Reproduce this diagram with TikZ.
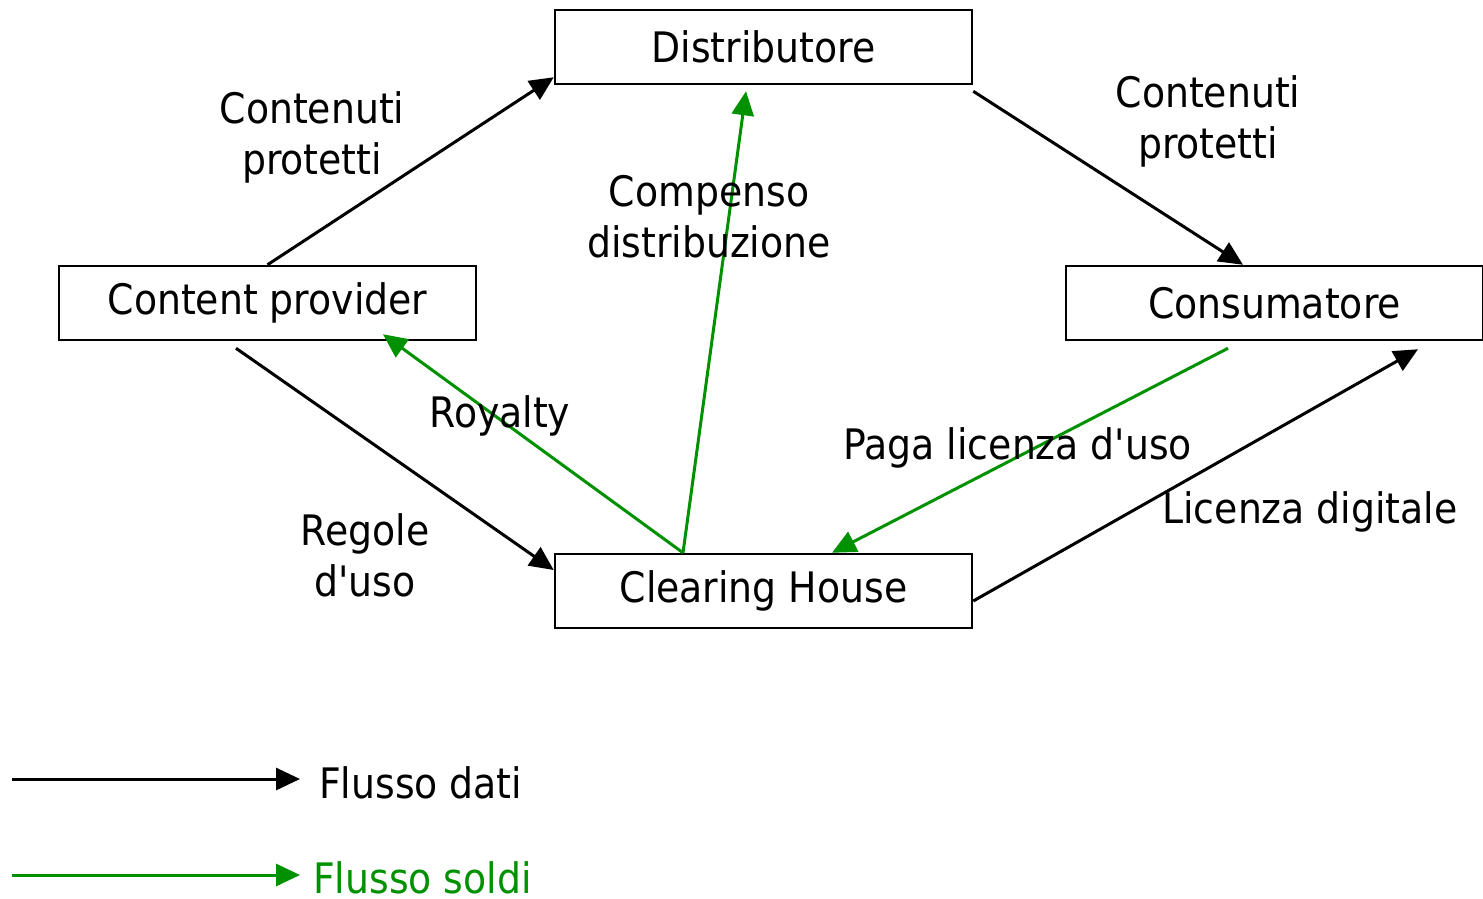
\documentclass[tikz,border=0pt]{standalone}
\usepackage{fontspec}
\setmainfont{DejaVu Sans Condensed}
\usetikzlibrary{arrows.meta,calc}
\definecolor{money}{RGB}{0,145,0}
\newcommand{\apos}{\textquotesingle}
\begin{document}
\begin{tikzpicture}[x=1pt,y=-1pt,
  every node/.style={font=\fontsize{42}{51}\selectfont},
  box/.style={draw,line width=2.5pt,minimum width=417pt,minimum height=74pt,inner sep=0pt},
  lbl/.style={align=center,inner sep=0pt},
  data/.style={line width=3pt,-{Triangle[length=24pt,width=22pt]}},
  cash/.style={data,draw=money,fill=money}]
\useasboundingbox (0,0) rectangle (1483,898);
\node[box] (dist) at (763.5,47) {Distributore};
\node[box] (cp) at (267.5,303) {Content provider};
\node[box] (cons) at (1274.5,303) {Consumatore};
\node[box] (ch) at (763.5,591) {Clearing House};

\draw[data] (cp.north) -- ([yshift=8pt]dist.south west);
\draw[data] ([yshift=-6pt]dist.south east) -- ([xshift=-31.5pt]cons.north);
\draw[data] ([xshift=-31.5pt,yshift=-7pt]cp.south) -- ([yshift=21pt]ch.west);
\draw[data] ([yshift=-10pt]ch.east) -- ([xshift=143.5pt,yshift=-8pt]cons.south);

\draw[cash] ([xshift=-80.5pt]ch.north) -- ([xshift=-17.5pt,yshift=-6pt]dist.south);
\draw[cash] ([xshift=-80.5pt]ch.north) -- ([xshift=115.5pt,yshift=7pt]cp.south);
\draw[cash] ([xshift=-46.5pt,yshift=-7pt]cons.south) -- ([xshift=68.5pt]ch.north);

\node[lbl] (l1) at (312,137) {Contenuti\\protetti};
\node[lbl] (l2) at (1208,121) {Contenuti\\protetti};
\node[lbl] (l3) at (709,217) {Compenso\\distribuzione};
\node[lbl] (l4) at (500,416) {Royalty};
\node[lbl] (l5) at (1018,448) {Paga licenza d\apos uso};
\node[lbl] (l6) at (1310,512) {Licenza digitale};
\node[lbl] (l7) at (365,555) {Regole\\d\apos uso};

\coordinate (a1) at (12,779);
\coordinate (b1) at (300,779);
\coordinate (a2) at (12,875);
\coordinate (b2) at (300,875);
\draw[data] (a1) -- (b1);
\draw[cash] (a2) -- (b2);
\node[lbl,anchor=west] (f1) at (319,783) {Flusso dati};
\node[lbl,anchor=west,text=money] (f2) at (313,878) {Flusso soldi};
\end{tikzpicture}
\end{document}
